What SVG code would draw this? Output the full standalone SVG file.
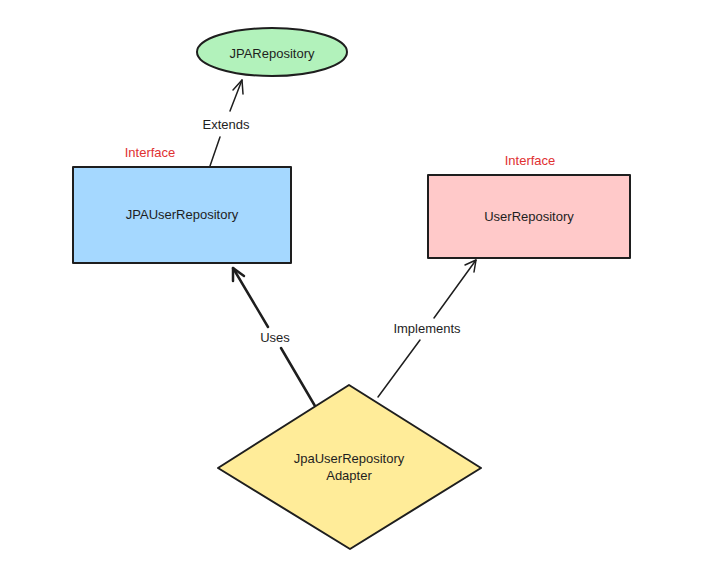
<svg xmlns="http://www.w3.org/2000/svg" width="713" height="576" viewBox="0 0 713 576">
<style>
.lbl{font-family:"Liberation Sans","DejaVu Sans",sans-serif;font-size:13px;fill:#1e1e1e;text-anchor:middle;dominant-baseline:central}
.red{fill:#e03131}
.shape{stroke:#1e1e1e;stroke-width:2;stroke-linejoin:round}
.edge{stroke:#1e1e1e;stroke-width:1.5;fill:none;stroke-linecap:round;stroke-linejoin:round}
</style>
<rect width="713" height="576" fill="#ffffff"/>
<g id="connectors">
  <g id="extends">
    <path class="edge" d="M210,166 L220,137 M230,111 L242,80"/>
    <path class="edge" d="M233,90 L242,80 L243,94"/>
    <text class="lbl" x="226" y="124">Extends</text>
  </g>
  <g id="uses">
    <path class="edge" style="stroke-width:2.5" d="M315,406 L281,348 M268,327 L233,268"/>
    <path class="edge" style="stroke-width:2.5" d="M233,281 L233,268 L244,276"/>
    <text class="lbl" x="275" y="337">Uses</text>
  </g>
  <g id="implements">
    <path class="edge" d="M378,397 L420,340 M434,318 L476,260"/>
    <path class="edge" d="M465,265 L476,260 L474,272"/>
    <text class="lbl" x="427" y="328">Implements</text>
  </g>
</g>
<g id="jpa-repository">
  <ellipse class="shape" cx="272" cy="52" rx="75" ry="24" fill="#b2f2bb"/>
  <text class="lbl" x="272" y="53">JPARepository</text>
</g>
<g id="jpa-user-repository">
  <text class="lbl red" x="150" y="152">Interface</text>
  <rect class="shape" x="73" y="167" width="218" height="96" fill="#a5d8ff"/>
  <text class="lbl" x="182" y="214">JPAUserRepository</text>
</g>
<g id="user-repository">
  <text class="lbl red" x="530" y="160">Interface</text>
  <rect class="shape" x="428" y="175" width="202" height="83" fill="#ffc9c9"/>
  <text class="lbl" x="529" y="216">UserRepository</text>
</g>
<g id="adapter">
  <polygon class="shape" points="349,385 481,468 350,549 218,468" fill="#ffec99"/>
  <text class="lbl" x="349" y="458">JpaUserRepository</text>
  <text class="lbl" x="349" y="475">Adapter</text>
</g>
</svg>
